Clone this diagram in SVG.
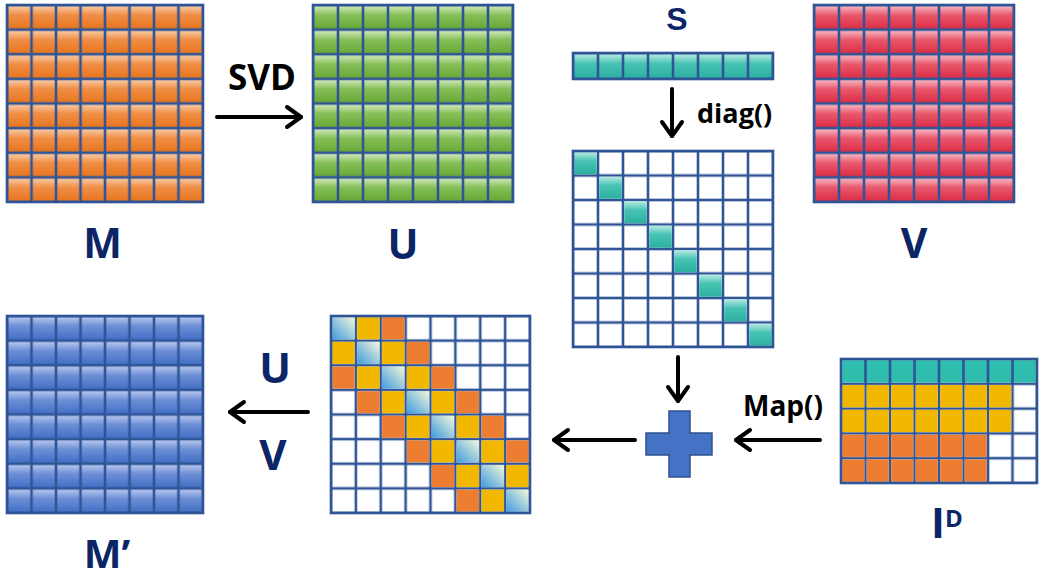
<svg xmlns="http://www.w3.org/2000/svg" width="1040" height="579" viewBox="0 0 1040 579">
<style>
.lbl{font-family:"Open Sans","Liberation Sans",sans-serif;font-weight:700;fill:#0b2566}
.lblS{font-family:"Liberation Sans",Arial,sans-serif;font-weight:700;fill:#0b2566}
.op{font-family:"Open Sans","Liberation Sans",sans-serif;font-weight:700;fill:#000}
.frame{fill:none;stroke:#2f5597;stroke-width:2.6}
.arr{fill:none;stroke:#000;stroke-width:4;stroke-linecap:round}
.cY{fill:#f2b800}
.cO{fill:#ed7d31}
.cT{fill:#2fbdae}
.cG{fill:url(#gDiag)}
.cTg{fill:url(#gTeal)}
</style>
<defs>
<linearGradient id="gOrange" x1="0" y1="0" x2="0" y2="1"><stop offset="0" stop-color="#f9c9a3"/><stop offset="0.4" stop-color="#f08e45"/><stop offset="1" stop-color="#e8761f"/></linearGradient>
<linearGradient id="gGreen" x1="0" y1="0" x2="0" y2="1"><stop offset="0" stop-color="#d0e8b9"/><stop offset="0.4" stop-color="#86bf58"/><stop offset="1" stop-color="#69a936"/></linearGradient>
<linearGradient id="gRed" x1="0" y1="0" x2="0" y2="1"><stop offset="0" stop-color="#f7b5c0"/><stop offset="0.4" stop-color="#e8586d"/><stop offset="1" stop-color="#de2e46"/></linearGradient>
<linearGradient id="gBlue" x1="0" y1="0" x2="0" y2="1"><stop offset="0" stop-color="#b6c6ee"/><stop offset="0.4" stop-color="#6e8fd6"/><stop offset="1" stop-color="#4470c6"/></linearGradient>
<linearGradient id="gTeal" x1="0" y1="0" x2="0" y2="1"><stop offset="0" stop-color="#b6eae2"/><stop offset="0.4" stop-color="#48c3b3"/><stop offset="1" stop-color="#2bb0a0"/></linearGradient>
<linearGradient id="gDiag" x1="0" y1="1" x2="1" y2="0"><stop offset="0" stop-color="#3f9be0"/><stop offset="1" stop-color="#f3f8d8"/></linearGradient>
<pattern id="pM" patternUnits="userSpaceOnUse" x="7" y="5" width="24.5" height="24.625"><rect width="24.5" height="24.625" fill="#2f5597"/><rect x="1.3" y="1.3" width="21.9" height="22.025" fill="url(#gOrange)"/></pattern>
<pattern id="pU" patternUnits="userSpaceOnUse" x="313" y="5" width="25" height="24.625"><rect width="25" height="24.625" fill="#2f5597"/><rect x="1.3" y="1.3" width="22.4" height="22.025" fill="url(#gGreen)"/></pattern>
<pattern id="pV" patternUnits="userSpaceOnUse" x="814" y="5" width="25" height="24.625"><rect width="25" height="24.625" fill="#2f5597"/><rect x="1.3" y="1.3" width="22.4" height="22.025" fill="url(#gRed)"/></pattern>
<pattern id="pMp" patternUnits="userSpaceOnUse" x="7" y="316" width="24.5" height="24.625"><rect width="24.5" height="24.625" fill="#2f5597"/><rect x="1.3" y="1.3" width="21.9" height="22.025" fill="url(#gBlue)"/></pattern>
<pattern id="pS" patternUnits="userSpaceOnUse" x="573" y="53" width="25" height="26"><rect width="25" height="26" fill="#2f5597"/><rect x="1.3" y="1.3" width="22.4" height="23.4" fill="url(#gTeal)"/></pattern>
<pattern id="pD" patternUnits="userSpaceOnUse" x="573" y="151" width="25" height="24.5"><rect width="25" height="24.5" fill="#2f5597"/><rect x="1.3" y="1.3" width="22.4" height="21.9" fill="#fff"/></pattern>
<pattern id="pC" patternUnits="userSpaceOnUse" x="331" y="316" width="24.875" height="24.625"><rect width="24.875" height="24.625" fill="#2f5597"/><rect x="1.3" y="1.3" width="22.275" height="22.025" fill="#fff"/></pattern>
<pattern id="pI" patternUnits="userSpaceOnUse" x="841" y="359" width="24.5" height="24.8"><rect width="24.5" height="24.8" fill="#2f5597"/><rect x="1.3" y="1.3" width="21.9" height="22.2" fill="#fff"/></pattern>
<marker id="ah" markerUnits="userSpaceOnUse" markerWidth="30" markerHeight="30" viewBox="-20 -15 30 30" refX="0" refY="0" orient="auto"><path d="M-14 -10 L0 0 L-14 10" fill="none" stroke="#000" stroke-width="4" stroke-linecap="round" stroke-linejoin="round"/></marker>
</defs>
<rect width="1040" height="579" fill="#fff"/>

<g id="M">
<rect x="7" y="5" width="196" height="197" fill="url(#pM)"/>
<rect class="frame" x="7" y="5" width="196" height="197"/>
<text class="lbl" x="102.5" y="258" font-size="41" text-anchor="middle">M</text>
</g>

<g id="U">
<rect x="313" y="5" width="200" height="197" fill="url(#pU)"/>
<rect class="frame" x="313" y="5" width="200" height="197"/>
<text class="lbl" x="403" y="259" font-size="41" text-anchor="middle">U</text>
</g>

<g id="S">
<rect x="573" y="53" width="200" height="26" fill="url(#pS)"/>
<rect class="frame" x="573" y="53" width="200" height="26"/>
<text class="lblS" x="677" y="29.5" font-size="32" text-anchor="middle">S</text>
</g>

<g id="V">
<rect x="814" y="5" width="200" height="197" fill="url(#pV)"/>
<rect class="frame" x="814" y="5" width="200" height="197"/>
<text class="lbl" x="914" y="258" font-size="41" text-anchor="middle">V</text>
</g>

<g id="diagS">
<rect x="573" y="151" width="200" height="196" fill="url(#pD)"/>
<g class="cTg">
<rect x="574.3" y="152.3" width="22.4" height="21.9"/>
<rect x="599.3" y="176.8" width="22.4" height="21.9"/>
<rect x="624.3" y="201.3" width="22.4" height="21.9"/>
<rect x="649.3" y="225.8" width="22.4" height="21.9"/>
<rect x="674.3" y="250.3" width="22.4" height="21.9"/>
<rect x="699.3" y="274.8" width="22.4" height="21.9"/>
<rect x="724.3" y="299.3" width="22.4" height="21.9"/>
<rect x="749.3" y="323.8" width="22.4" height="21.9"/>
</g>
<rect class="frame" x="573" y="151" width="200" height="196"/>
</g>

<g id="Mprime">
<rect x="7" y="316" width="196" height="197" fill="url(#pMp)"/>
<rect class="frame" x="7" y="316" width="196" height="197"/>
<text class="lbl" x="107" y="568" font-size="40" text-anchor="middle">M’</text>
</g>

<g id="combined">
<rect x="331" y="316" width="199" height="197" fill="url(#pC)"/>
<g class="cG">
<rect x="332.3" y="317.3" width="22.3" height="22"/>
<rect x="357.2" y="341.9" width="22.3" height="22"/>
<rect x="382.1" y="366.6" width="22.3" height="22"/>
<rect x="406.9" y="391.2" width="22.3" height="22"/>
<rect x="431.8" y="415.8" width="22.3" height="22"/>
<rect x="456.7" y="440.4" width="22.3" height="22"/>
<rect x="481.6" y="465.1" width="22.3" height="22"/>
<rect x="506.4" y="489.7" width="22.3" height="22"/>
</g>
<g class="cY">
<rect x="357.2" y="317.3" width="22.3" height="22"/>
<rect x="332.3" y="341.9" width="22.3" height="22"/>
<rect x="382.1" y="341.9" width="22.3" height="22"/>
<rect x="357.2" y="366.6" width="22.3" height="22"/>
<rect x="406.9" y="366.6" width="22.3" height="22"/>
<rect x="382.1" y="391.2" width="22.3" height="22"/>
<rect x="431.8" y="391.2" width="22.3" height="22"/>
<rect x="406.9" y="415.8" width="22.3" height="22"/>
<rect x="456.7" y="415.8" width="22.3" height="22"/>
<rect x="431.8" y="440.4" width="22.3" height="22"/>
<rect x="481.6" y="440.4" width="22.3" height="22"/>
<rect x="456.7" y="465.1" width="22.3" height="22"/>
<rect x="506.4" y="465.1" width="22.3" height="22"/>
<rect x="481.6" y="489.7" width="22.3" height="22"/>
</g>
<g class="cO">
<rect x="382.1" y="317.3" width="22.3" height="22"/>
<rect x="406.9" y="341.9" width="22.3" height="22"/>
<rect x="332.3" y="366.6" width="22.3" height="22"/>
<rect x="431.8" y="366.6" width="22.3" height="22"/>
<rect x="357.2" y="391.2" width="22.3" height="22"/>
<rect x="456.7" y="391.2" width="22.3" height="22"/>
<rect x="382.1" y="415.8" width="22.3" height="22"/>
<rect x="481.6" y="415.8" width="22.3" height="22"/>
<rect x="406.9" y="440.4" width="22.3" height="22"/>
<rect x="506.4" y="440.4" width="22.3" height="22"/>
<rect x="431.8" y="465.1" width="22.3" height="22"/>
<rect x="456.7" y="489.7" width="22.3" height="22"/>
</g>
<rect class="frame" x="331" y="316" width="199" height="197"/>
</g>

<g id="plus">
<path d="M669 411 H690 V433 H712 V455 H690 V477 H669 V455 H646 V433 H669 Z" fill="#4472c4" stroke="#2f528f" stroke-width="1.5"/>
</g>

<g id="ID">
<rect x="841" y="359" width="196" height="124" fill="url(#pI)"/>
<rect class="cT" x="842.3" y="360.3" width="193.5" height="22.2"/>
<g fill="#2f5597">
<rect x="864.2" y="359" width="2.6" height="24.8"/>
<rect x="888.7" y="359" width="2.6" height="24.8"/>
<rect x="913.2" y="359" width="2.6" height="24.8"/>
<rect x="937.7" y="359" width="2.6" height="24.8"/>
<rect x="962.2" y="359" width="2.6" height="24.8"/>
<rect x="986.7" y="359" width="2.6" height="24.8"/>
<rect x="1011.2" y="359" width="2.6" height="24.8"/>
</g>
<g class="cY">
<rect x="842.3" y="385.1" width="21.9" height="22.2"/>
<rect x="866.8" y="385.1" width="21.9" height="22.2"/>
<rect x="891.3" y="385.1" width="21.9" height="22.2"/>
<rect x="915.8" y="385.1" width="21.9" height="22.2"/>
<rect x="940.3" y="385.1" width="21.9" height="22.2"/>
<rect x="964.8" y="385.1" width="21.9" height="22.2"/>
<rect x="989.3" y="385.1" width="21.9" height="22.2"/>
<rect x="842.3" y="409.9" width="21.9" height="22.2"/>
<rect x="866.8" y="409.9" width="21.9" height="22.2"/>
<rect x="891.3" y="409.9" width="21.9" height="22.2"/>
<rect x="915.8" y="409.9" width="21.9" height="22.2"/>
<rect x="940.3" y="409.9" width="21.9" height="22.2"/>
<rect x="964.8" y="409.9" width="21.9" height="22.2"/>
<rect x="989.3" y="409.9" width="21.9" height="22.2"/>
</g>
<g class="cO">
<rect x="842.3" y="434.7" width="21.9" height="22.2"/>
<rect x="866.8" y="434.7" width="21.9" height="22.2"/>
<rect x="891.3" y="434.7" width="21.9" height="22.2"/>
<rect x="915.8" y="434.7" width="21.9" height="22.2"/>
<rect x="940.3" y="434.7" width="21.9" height="22.2"/>
<rect x="964.8" y="434.7" width="21.9" height="22.2"/>
<rect x="842.3" y="459.5" width="21.9" height="22.2"/>
<rect x="866.8" y="459.5" width="21.9" height="22.2"/>
<rect x="891.3" y="459.5" width="21.9" height="22.2"/>
<rect x="915.8" y="459.5" width="21.9" height="22.2"/>
<rect x="940.3" y="459.5" width="21.9" height="22.2"/>
<rect x="964.8" y="459.5" width="21.9" height="22.2"/>
</g>
<rect class="frame" x="841" y="359" width="196" height="124"/>
<text class="lbl" x="931" y="538" font-size="42">I<tspan font-size="24" dy="-11">D</tspan></text>
</g>

<g id="connectors">
<path class="arr" d="M217 117 H301" marker-end="url(#ah)"/>
<path class="arr" d="M672 89 V136" marker-end="url(#ah)"/>
<path class="arr" d="M678 357 V401" marker-end="url(#ah)"/>
<path class="arr" d="M635 440 H554" marker-end="url(#ah)"/>
<path class="arr" d="M820 440 H736" marker-end="url(#ah)"/>
<path class="arr" d="M308 412 H230" marker-end="url(#ah)"/>
<text class="op" x="262" y="90" font-size="35" text-anchor="middle">SVD</text>
<text class="op" x="697" y="123" font-size="27">diag()</text>
<text class="op" x="743" y="416" font-size="28">Map()</text>
<text class="lbl" x="275" y="383" font-size="42" text-anchor="middle">U</text>
<text class="lbl" x="273" y="470" font-size="42" text-anchor="middle">V</text>
</g>
</svg>
